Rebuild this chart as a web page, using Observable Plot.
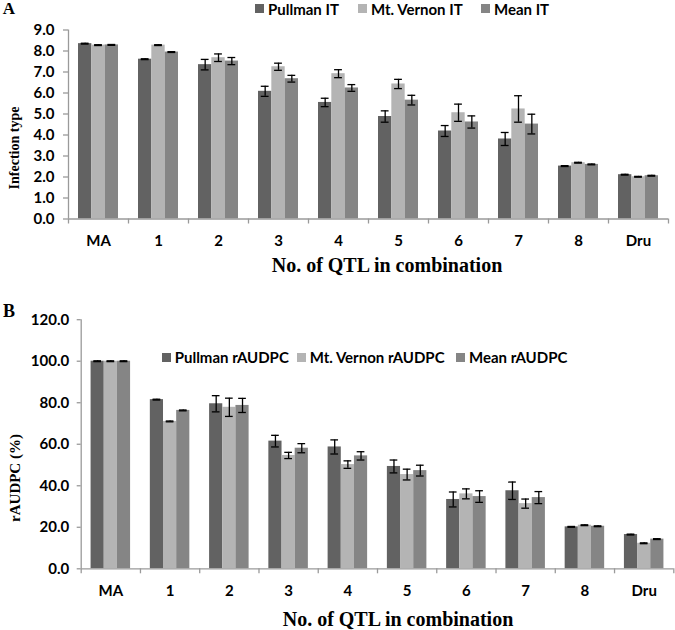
<!DOCTYPE html>
<html><head><meta charset="utf-8">
<script src="https://cdn.jsdelivr.net/npm/d3@7"></script>
<script src="https://cdn.jsdelivr.net/npm/@observablehq/plot@0.6"></script>
<style>
body{margin:0;background:#fff;}
#wrap{position:relative;width:675px;height:630px;overflow:hidden;background:#fff;}
.abs{position:absolute;white-space:nowrap;}
.serif{font-family:"Liberation Serif","Times New Roman",serif;font-weight:bold;color:#000;}
.it{position:absolute;display:flex;align-items:center;font-family:Lato,sans-serif;font-weight:bold;font-size:15px;color:#000;white-space:nowrap;transform:translateY(-50%);}
.it .sw{width:9px;height:9px;display:inline-block;margin-right:4px;}
</style></head>
<body><div id="wrap"></div>
<script>
const categories = ["MA","1","2","3","4","5","6","7","8","Dru"];
const seriesA = ["Pullman IT","Mt. Vernon IT","Mean IT"];
const seriesB = ["Pullman rAUDPC","Mt. Vernon rAUDPC","Mean rAUDPC"];
const colors = ["#626262","#b4b4b4","#858585"];

const itPullman    = [8.35,7.61,7.35,6.08,5.55,4.88,4.19,3.81,2.52,2.11];
const itPullmanErr = [0.02,0.02,0.25,0.24,0.20,0.27,0.26,0.31,0.02,0.02];
const itVernon     = [8.28,8.28,7.68,7.25,6.92,6.43,5.06,5.24,2.68,2.01];
const itVernonErr  = [0.02,0.02,0.18,0.17,0.19,0.22,0.41,0.63,0.02,0.02];
const itMean       = [8.29,7.95,7.52,6.68,6.24,5.66,4.62,4.52,2.60,2.06];
const itMeanErr    = [0.02,0.02,0.17,0.16,0.16,0.23,0.29,0.47,0.02,0.02];
const itTicks = [0,1,2,3,4,5,6,7,8,9];

const auPullman    = [100,81.5,79.5,61.5,58.7,49.3,33.4,37.6,20.2,16.5];
const auPullmanErr = [0.2,0.2,3.9,2.8,3.4,3.1,3.6,4.2,0.2,0.2];
const auVernon     = [100,71.0,77.8,54.6,50.2,45.4,36.1,31.4,21.0,12.3];
const auVernonErr  = [0.2,0.2,4.4,1.5,1.8,2.6,2.4,2.2,0.2,0.2];
const auMean       = [100,76.3,78.7,58.1,54.4,47.3,34.8,34.3,20.5,14.3];
const auMeanErr    = [0.2,0.2,3.4,2.2,2.0,2.6,2.8,2.9,0.2,0.2];
const auTicks = [0,20,40,60,80,100,120];

function rows(series, vals, errs){
  const out = [];
  categories.forEach((c,i)=>{
    series.forEach((s,k)=>{
      const x1 = i + 1/6 + k*(2/9);
      out.push({cat:c, series:s, k, x1, x2:x1+2/9, xc:x1+1/9, v:vals[k][i], e:errs[k][i]});
    });
  });
  return out;
}

function panel(o){
  const data = rows(o.series, o.vals, o.errs);
  const cap = 0.065;
  return Plot.plot({
    width:675, height:o.height,
    marginLeft:o.ml, marginRight:o.mr, marginTop:o.mt, marginBottom:o.mb,
    style:{fontFamily:"Lato, sans-serif", fontWeight:"bold", fontSize:"15px", color:"#000", background:"#fff"},
    x:{domain:[0,categories.length], axis:null},
    y:{domain:[0,o.ymax], axis:null},
    color:{domain:o.series, range:colors},
    marks:[
      Plot.rectY(data,{x1:"x1", x2:"x2", y1:0, y2:"v", fill:"series"}),
      Plot.ruleX(data,{x:"xc", y1:d=>d.v-d.e, y2:d=>d.v+d.e, stroke:"#000", strokeWidth:1.3}),
      Plot.ruleY(data,{y:d=>d.v+d.e, x1:d=>d.xc-cap, x2:d=>d.xc+cap, stroke:"#000", strokeWidth:1.3}),
      Plot.ruleY(data,{y:d=>d.v-d.e, x1:d=>d.xc-cap, x2:d=>d.xc+cap, stroke:"#000", strokeWidth:1.3}),
      Plot.ruleY([0],{stroke:"#9a9a9a", strokeWidth:1.3}),
      Plot.ruleX([0],{y1:0, y2:o.ymax, stroke:"#9a9a9a", strokeWidth:1.3}),
      Plot.axisX({ticks:d3.range(categories.length+1), tickFormat:()=>"", tickSize:5, stroke:"#9a9a9a", strokeWidth:1.3, label:null}),
      Plot.axisX({ticks:categories.map((c,i)=>i+0.5), tickFormat:t=>categories[Math.floor(t)], tickSize:0, tickPadding:o.xpad, fontSize:15, fill:"#000", label:null}),
      Plot.axisY({ticks:o.ticks, tickFormat:d=>d.toFixed(1), tickSize:o.yts, tickPadding:o.ypad, stroke:"#9a9a9a", strokeWidth:1.3, fontSize:o.yfs, fill:"#000", label:null})
    ]
  });
}

const wrap = document.getElementById("wrap");
function place(el, top){ el.style.position="absolute"; el.style.left="0px"; el.style.top=top+"px"; wrap.appendChild(el); }

place(panel({series:seriesA, vals:[itPullman,itVernon,itMean], errs:[itPullmanErr,itVernonErr,itMeanErr],
  height:290, ml:68, mr:7, mt:29.5, mb:71.5, ymax:9, ticks:itTicks, xpad:16, yts:5, ypad:9, yfs:15}), 0);
place(panel({series:seriesB, vals:[auPullman,auVernon,auMean], errs:[auPullmanErr,auVernonErr,auMeanErr],
  height:340, ml:80.7, mr:1.7, mt:29.2, mb:61.7, ymax:120, ticks:auTicks, xpad:17, yts:4, ypad:8, yfs:15}), 290);

function txt(s, x, y, size, rot){
  const d = document.createElement("div");
  d.className = "abs serif";
  d.textContent = s;
  d.style.left = x+"px"; d.style.top = y+"px"; d.style.fontSize = size+"px";
  d.style.transform = "translate(-50%,-50%)" + (rot ? " rotate(-90deg)" : "");
  wrap.appendChild(d);
}
txt("A", 9, 9, 17);
txt("B", 9, 311, 18);
txt("Infection type", 15, 148, 14, true);
txt("rAUDPC (%)", 15, 478, 15, true);
txt("No. of QTL in combination", 387, 265, 20);
txt("No. of QTL in combination", 398, 619, 20);

function legend(series, lefts, cy){
  series.forEach((s,k)=>{
    const it = document.createElement("div"); it.className="it";
    it.style.left = lefts[k]+"px"; it.style.top = cy+"px";
    const sw = document.createElement("span"); sw.className="sw"; sw.style.background = colors[k];
    const t = document.createElement("span"); t.textContent = s;
    it.appendChild(sw); it.appendChild(t); wrap.appendChild(it);
  });
}
legend(seriesA, [255, 358, 481], 8.5);
legend(seriesB, [161.7, 296.7, 456], 357.3);
</script></body></html>
